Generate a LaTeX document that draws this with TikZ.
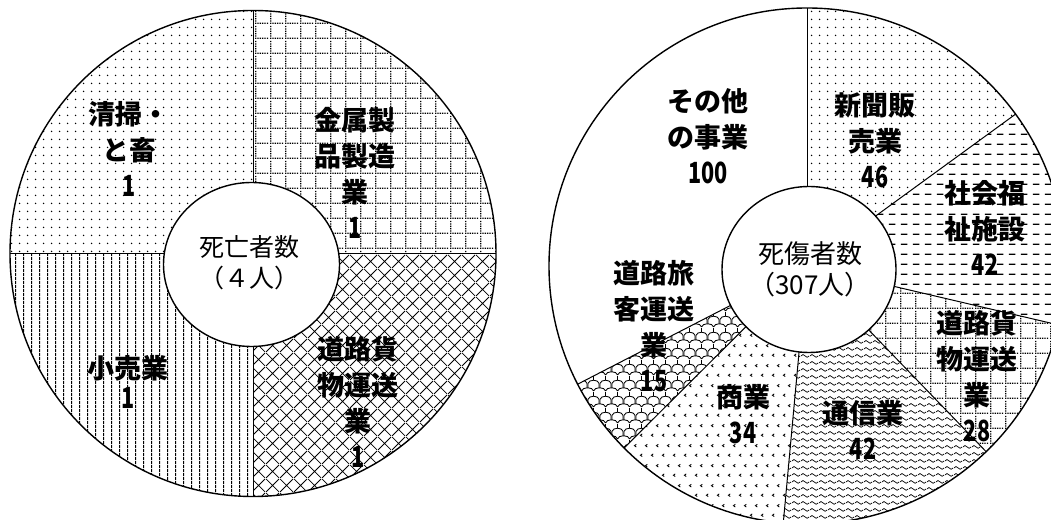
\documentclass[tikz,border=0pt]{standalone}
\usepackage{fontspec}
\newfontfamily\jp{Noto Sans CJK JP}
\usetikzlibrary{patterns}
\newcommand\narrownum[1]{\scalebox{0.8}[1.08]{#1}}
% dots
\pgfdeclarepatternformonly{pdots}{\pgfpoint{0pt}{0pt}}{\pgfpoint{8pt}{8pt}}{\pgfpoint{8pt}{8pt}}{%
  \pgfpathcircle{\pgfpoint{4pt}{4pt}}{0.9pt}\pgfusepath{fill}}
% dotted grid
\pgfdeclarepatternformonly{pgrid}{\pgfpoint{0pt}{0pt}}{\pgfpoint{15pt}{15pt}}{\pgfpoint{15pt}{15pt}}{%
  \pgfpathrectangle{\pgfpoint{0pt}{0pt}}{\pgfpoint{1.4pt}{1.4pt}}%
  \pgfpathrectangle{\pgfpoint{2.5pt}{0pt}}{\pgfpoint{1.4pt}{1.4pt}}%
  \pgfpathrectangle{\pgfpoint{5pt}{0pt}}{\pgfpoint{1.4pt}{1.4pt}}%
  \pgfpathrectangle{\pgfpoint{7.5pt}{0pt}}{\pgfpoint{1.4pt}{1.4pt}}%
  \pgfpathrectangle{\pgfpoint{10pt}{0pt}}{\pgfpoint{1.4pt}{1.4pt}}%
  \pgfpathrectangle{\pgfpoint{12.5pt}{0pt}}{\pgfpoint{1.4pt}{1.4pt}}%
  \pgfpathrectangle{\pgfpoint{0pt}{2.5pt}}{\pgfpoint{1.4pt}{1.4pt}}%
  \pgfpathrectangle{\pgfpoint{0pt}{5pt}}{\pgfpoint{1.4pt}{1.4pt}}%
  \pgfpathrectangle{\pgfpoint{0pt}{7.5pt}}{\pgfpoint{1.4pt}{1.4pt}}%
  \pgfpathrectangle{\pgfpoint{0pt}{10pt}}{\pgfpoint{1.4pt}{1.4pt}}%
  \pgfpathrectangle{\pgfpoint{0pt}{12.5pt}}{\pgfpoint{1.4pt}{1.4pt}}%
  \pgfusepath{fill}}
% diamond crosshatch
\pgfdeclarepatternformonly{pdiam}{\pgfpoint{0pt}{0pt}}{\pgfpoint{14pt}{14pt}}{\pgfpoint{14pt}{14pt}}{%
  \pgfsetlinewidth{0.9pt}%
  \pgfpathmoveto{\pgfpoint{0pt}{0pt}}\pgfpathlineto{\pgfpoint{14pt}{14pt}}%
  \pgfpathmoveto{\pgfpoint{0pt}{14pt}}\pgfpathlineto{\pgfpoint{14pt}{0pt}}%
  \pgfusepath{stroke}}
% vertical lines
\pgfdeclarepatternformonly{pvl}{\pgfpoint{0pt}{0pt}}{\pgfpoint{7.8pt}{4pt}}{\pgfpoint{7.8pt}{4pt}}{%
  \pgfpathrectangle{\pgfpoint{0pt}{0pt}}{\pgfpoint{1.1pt}{4pt}}\pgfusepath{fill}}
% horizontal dashes
\pgfdeclarepatternformonly{phdash}{\pgfpoint{0pt}{0pt}}{\pgfpoint{12pt}{10pt}}{\pgfpoint{12pt}{10pt}}{%
  \pgfpathrectangle{\pgfpoint{1pt}{4.4pt}}{\pgfpoint{7pt}{1.4pt}}\pgfusepath{fill}}
% waves
\pgfdeclarepatternformonly{pwave}{\pgfpoint{0pt}{0pt}}{\pgfpoint{9pt}{7pt}}{\pgfpoint{9pt}{7pt}}{%
  \pgfsetlinewidth{0.8pt}%
  \pgfpathmoveto{\pgfpoint{0pt}{3.5pt}}%
  \pgfpathcurveto{\pgfpoint{1.5pt}{5.6pt}}{\pgfpoint{3pt}{5.6pt}}{\pgfpoint{4.5pt}{3.5pt}}%
  \pgfpathcurveto{\pgfpoint{6pt}{1.4pt}}{\pgfpoint{7.5pt}{1.4pt}}{\pgfpoint{9pt}{3.5pt}}%
  \pgfusepath{stroke}}
% chevrons
\pgfdeclarepatternformonly{pchev}{\pgfpoint{0pt}{0pt}}{\pgfpoint{11pt}{20pt}}{\pgfpoint{11pt}{20pt}}{%
  \pgfsetlinewidth{0.9pt}%
  \pgfpathmoveto{\pgfpoint{4.6pt}{6.4pt}}\pgfpathlineto{\pgfpoint{2.6pt}{5pt}}\pgfpathlineto{\pgfpoint{4.6pt}{3.6pt}}%
  \pgfpathmoveto{\pgfpoint{10.1pt}{16.4pt}}\pgfpathlineto{\pgfpoint{8.1pt}{15pt}}\pgfpathlineto{\pgfpoint{10.1pt}{13.6pt}}%
  \pgfusepath{stroke}}
% tiles
\pgfdeclarepatternformonly{pscale}{\pgfpoint{0pt}{0pt}}{\pgfpoint{12pt}{16pt}}{\pgfpoint{12pt}{16pt}}{%
  \pgfsetlinewidth{0.9pt}%
  \pgfpathmoveto{\pgfpoint{0pt}{8pt}}%
  \pgfpathcurveto{\pgfpoint{1pt}{12.5pt}}{\pgfpoint{11pt}{12.5pt}}{\pgfpoint{12pt}{8pt}}%
  \pgfpathmoveto{\pgfpoint{0pt}{8pt}}\pgfpathlineto{\pgfpoint{0pt}{3.4pt}}%
  \pgfpathmoveto{\pgfpoint{12pt}{8pt}}\pgfpathlineto{\pgfpoint{12pt}{3.4pt}}%
  \pgfpathmoveto{\pgfpoint{-6pt}{0pt}}%
  \pgfpathcurveto{\pgfpoint{-5pt}{4.5pt}}{\pgfpoint{5pt}{4.5pt}}{\pgfpoint{6pt}{0pt}}%
  \pgfpathmoveto{\pgfpoint{6pt}{0pt}}%
  \pgfpathcurveto{\pgfpoint{7pt}{4.5pt}}{\pgfpoint{17pt}{4.5pt}}{\pgfpoint{18pt}{0pt}}%
  \pgfpathmoveto{\pgfpoint{6pt}{16pt}}\pgfpathlineto{\pgfpoint{6pt}{11.4pt}}%
  \pgfusepath{stroke}}
\tikzset{
  lab/.style={font=\jp\bfseries\fontsize{27}{36}\selectfont, align=center, inner sep=0pt},
  ctr/.style={font=\jp\fontsize{25}{31}\selectfont, align=center, inner sep=0pt},
  rim/.style={line width=1.4pt},
  div/.style={line width=1pt},
}
\begin{document}
\begin{tikzpicture}[x=1pt,y=1pt]
\useasboundingbox (0,0) rectangle (1051,519);
\fill[white] (0,0) rectangle (1051,519);
\clip (0,0) rectangle (1051,519);

% ---------- left pie ----------
\coordinate (L) at (253,265.5);
\fill[pattern=pgrid] (L) -- ++(0:243) arc[start angle=0,end angle=90,radius=243] -- cycle;
\fill[pattern=pdots] (L) -- ++(90:243) arc[start angle=90,end angle=180,radius=243] -- cycle;
\fill[pattern=pvl] (L) -- ++(180:243) arc[start angle=180,end angle=270,radius=243] -- cycle;
\fill[pattern=pdiam] (L) -- ++(270:243) arc[start angle=270,end angle=360,radius=243] -- cycle;
\draw[div] (L) -- ++(0:243);
\draw[div] (L) -- ++(90:243);
\draw[div] (L) -- ++(180:243);
\draw[div] (L) -- ++(270:243);
\draw[rim] (L) circle (243);
\coordinate (Li) at (251.5,254.5);
\filldraw[rim, fill=white] (Li) ellipse [x radius=88, y radius=82];
\node[ctr] (lc) at (249,256.5) {死亡者数\\（４人）};

\node[lab] (l1) at (129,370.5) {清掃・\\と畜\\\narrownum{1}};
\node[lab] (l2) at (355,346) {金属製\\品製造\\業\\\narrownum{1}};
\node[lab] (l3) at (358,117) {道路貨\\物運送\\業\\\narrownum{1}};
\node[lab, font=\jp\bfseries\fontsize{27}{30}\selectfont] (l4) at (128,137) {小売業\\\narrownum{1}};

% ---------- right pie ----------
\coordinate (R) at (807,253);
\def\rr{258}
\fill[pattern=pdots] (R) -- ++(90:\rr) arc[start angle=90,end angle=36.06,radius=\rr] -- cycle;
\fill[pattern=phdash] (R) -- ++(36.06:\rr) arc[start angle=36.06,end angle=-13.19,radius=\rr] -- cycle;
\fill[pattern=pgrid] (R) -- ++(-13.19:\rr) arc[start angle=-13.19,end angle=-46.03,radius=\rr] -- cycle;
\fill[pattern=pwave] (R) -- ++(-46.03:\rr) arc[start angle=-46.03,end angle=-95.28,radius=\rr] -- cycle;
\fill[pattern=pchev] (R) -- ++(-95.28:\rr) arc[start angle=-95.28,end angle=-135.15,radius=\rr] -- cycle;
\fill[pattern=pscale] (R) -- ++(-135.15:\rr) arc[start angle=-135.15,end angle=-152.74,radius=\rr] -- cycle;
\foreach \a in {90,36.06,-13.19,-46.03,-95.28,-135.15,-152.74}
  \draw[div] (R) -- ++(\a:\rr);
\draw[rim] (R) circle (\rr);
\coordinate (Ri) at (809,249.5);
\filldraw[rim, fill=white] (Ri) ellipse [x radius=87, y radius=83];
\node[ctr, font=\jp\fontsize{26}{31}\selectfont] (rc) at (810,249.5) {死傷者数\\（307人）};

\node[lab] (r1) at (708,383) {その他\\の事業\\\narrownum{100}};
\node[lab] (r2) at (875,379) {新聞販\\売業\\\narrownum{46}};
\node[lab] (r3) at (985,291) {社会福\\祉施設\\\narrownum{42}};
\node[lab] (r4) at (977,143) {道路貨\\物運送\\業\\\narrownum{28}};
\node[lab] (r5) at (863,89) {通信業\\\narrownum{42}};
\node[lab] (r6) at (743,104.5) {商業\\\narrownum{34}};
\node[lab] (r7) at (654,193) {道路旅\\客運送\\業\\\narrownum{15}};
\end{tikzpicture}
\end{document}
